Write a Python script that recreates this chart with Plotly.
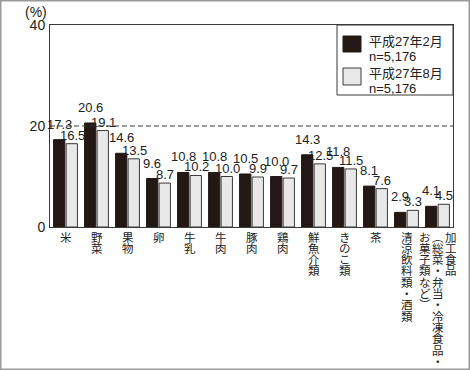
import plotly.graph_objects as go

# ---- data ----
categories = ["米", "野菜", "果物", "卵", "牛乳", "牛肉", "豚肉", "鶏肉", "鮮魚介類",
              "きのこ類", "茶", "清涼飲料類・酒類",
              "加工食品（総菜・弁当・冷凍食品・お菓子類など）"]
# vertical label columns (right-to-left)
label_columns = [["米"], ["野菜"], ["果物"], ["卵"], ["牛乳"], ["牛肉"], ["豚肉"], ["鶏肉"],
                 ["鮮魚介類"], ["きのこ類"], ["茶"], ["清涼飲料類・酒類"],
                 ["加工食品", "（総菜・弁当・冷凍食品・", "お菓子類など）"]]
feb_values = [17.3, 20.6, 14.6, 9.6, 10.8, 10.8, 10.5, 10.0, 14.3, 11.8, 8.1, 2.9, 4.1]
aug_values = [16.5, 19.1, 13.5, 8.7, 10.2, 10.0, 9.9, 9.7, 12.5, 11.5, 7.6, 3.3, 4.5]
series_names = ["平成27年2月", "平成27年8月"]
series_n = ["n=5,176", "n=5,176"]
y_ticks = [0, 20, 40]
ref_line = 20

DARK = "#231815"
GREY = "#e8e8e8"
LINE = "#3a3a3a"
NUM_FONT = "Liberation Sans Narrow, Arial Narrow, Liberation Sans, sans-serif"
JP_FONT = "Liberation Sans, Noto Sans CJK JP, sans-serif"

fig = go.Figure()
fig.add_trace(go.Bar(x=categories, y=feb_values, name=series_names[0],
                     marker=dict(color=DARK, line=dict(color=DARK, width=1)),
                     showlegend=False))
fig.add_trace(go.Bar(x=categories, y=aug_values, name=series_names[1],
                     marker=dict(color=GREY, line=dict(color=LINE, width=1)),
                     showlegend=False))

annotations = []
# value labels
for c, v in zip(categories, feb_values):
    annotations.append(dict(x=c, y=v, xref="x", yref="y", text=f"{v:.1f}",
                            showarrow=False, xanchor="center", yanchor="bottom",
                            xshift=-6.5, yshift=6,
                            font=dict(family=NUM_FONT, size=13, color="#222")))
for c, v in zip(categories, aug_values):
    annotations.append(dict(x=c, y=v, xref="x", yref="y", text=f"{v:.1f}",
                            showarrow=False, xanchor="center", yanchor="bottom",
                            xshift=6.5, yshift=-1,
                            font=dict(family=NUM_FONT, size=13, color="#222")))

# vertical category labels
vert_map = {"（": "︵", "）": "︶", "(": "︵", ")": "︶"}
pitch = 11.3
for c, cols in zip(categories, label_columns):
    n = len(cols)
    for i, col in enumerate(cols):
        xoff = ((n - 1) / 2 - i) * 13
        for j, ch in enumerate(col):
            annotations.append(dict(x=c, y=0, xref="x", yref="paper",
                                    text=vert_map.get(ch, ch), showarrow=False,
                                    xanchor="center", yanchor="top", height=12, borderpad=0,
                                    xshift=xoff, yshift=-(2.5 + j * pitch),
                                    font=dict(family="Noto Sans CJK JP", size=11.5, color="#222")))

# plot geometry helpers (pixels -> paper)
L, R, T, B = 50, 17, 25, 143
W, H = 470, 370
PW, PH = W - L - R, H - T - B
def px(xp):
    return (xp - L) / PW
def py(yp):
    return (T + PH - yp) / PH

# (%) label
annotations.append(dict(x=px(49), y=py(12.5), xref="paper", yref="paper", text="(%)",
                        showarrow=False, xanchor="right", yanchor="middle",
                        font=dict(family="Liberation Sans, Arial, sans-serif", size=14, color="#222")))

shapes = []
# dashed reference line
shapes.append(dict(type="line", xref="paper", yref="y", x0=0, x1=1, y0=ref_line, y1=ref_line,
                   line=dict(color=LINE, width=1, dash="5px,3px")))
# legend box
shapes.append(dict(type="rect", xref="paper", yref="paper", x0=px(337), x1=1, y0=py(95), y1=1,
                   line=dict(color=LINE, width=1), fillcolor="white", layer="above"))
sw_colors = [(DARK, DARK), (GREY, LINE)]
sw_y = [(36, 52), (68, 85)]
txt_y = [(41.7, 56), (73, 88.5)]
for k in range(2):
    shapes.append(dict(type="rect", xref="paper", yref="paper", x0=px(343), x1=px(361),
                       y0=py(sw_y[k][1]), y1=py(sw_y[k][0]),
                       line=dict(color=sw_colors[k][1], width=1), fillcolor=sw_colors[k][0],
                       layer="above"))
    annotations.append(dict(x=px(367), y=py(txt_y[k][0]), xref="paper", yref="paper",
                            text=series_names[k], showarrow=False, xanchor="left", yanchor="middle",
                            font=dict(family=JP_FONT, size=13, color="#222")))
    annotations.append(dict(x=px(367), y=py(txt_y[k][1]), xref="paper", yref="paper",
                            text=series_n[k], showarrow=False, xanchor="left", yanchor="middle",
                            font=dict(family=JP_FONT, size=13, color="#222")))
# outer frame
shapes.append(dict(type="rect", xref="paper", yref="paper", x0=px(0.75), x1=px(469.25),
                   y0=py(369.25), y1=py(0.75), line=dict(color="#9a9a9a", width=1.5)))

fig.update_layout(
    width=W, height=H,
    margin=dict(l=L, r=R, t=T, b=B, pad=0),
    paper_bgcolor="white", plot_bgcolor="white",
    barmode="group", bargap=0.19, bargroupgap=0.1,
    annotations=annotations, shapes=shapes,
    showlegend=False,
    xaxis=dict(type="category", range=[-0.5, len(categories) - 0.5], showticklabels=False,
               showline=True, linecolor=LINE, linewidth=1, mirror=True, ticks="",
               showgrid=False, zeroline=False, fixedrange=True),
    yaxis=dict(range=[0, 40], tickvals=y_ticks, showline=True, linecolor=LINE, linewidth=1,
               mirror=True, ticks="", showgrid=False, zeroline=False,
               tickfont=dict(family="Liberation Sans, Arial, sans-serif", size=14, color="#222"),
               ticklabelstandoff=1),
)

fig.write_html("out.html", config={"displayModeBar": False},
               post_script="document.body.style.margin='0';document.body.style.padding='0';")
